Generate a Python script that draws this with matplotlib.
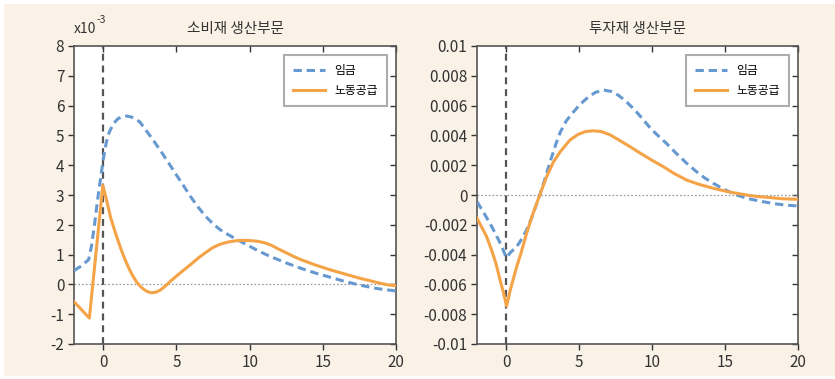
import matplotlib
matplotlib.use("Agg")
import matplotlib.pyplot as plt
from matplotlib.patches import Rectangle

plt.rcParams['font.family'] = ['Noto Sans CJK KR', 'DejaVu Sans']
plt.rcParams['axes.unicode_minus'] = False
plt.rcParams['lines.scale_dashes'] = False

# 소비재 생산부문 (x10^-3)
cons_wage_x = [-2, -1.5, -1, -0.8, -0.6, -0.4, -0.2, 0, 0.2, 0.4, 0.7, 1.0, 1.3, 1.6, 1.9, 2.2,
               2.5, 3.0, 3.5, 4.0, 4.5, 5.0, 5.5, 6.0, 6.5, 7.0, 7.5, 8.0, 8.5, 9.0, 9.5, 10.0,
               10.5, 11.0, 11.5, 12.0, 12.5, 13.0, 13.5, 14.0, 14.5, 15.0, 15.5, 16.0, 16.5,
               17.0, 17.5, 18.0, 18.5, 19.0, 19.5, 20]
cons_wage_y = [0.46, 0.62, 0.83, 1.3, 2.0, 2.8, 3.5, 4.2, 4.75, 5.1, 5.4, 5.56, 5.63, 5.65, 5.62,
               5.55, 5.45, 5.12, 4.78, 4.42, 4.05, 3.67, 3.30, 2.92, 2.58, 2.28, 2.03, 1.83, 1.68,
               1.54, 1.41, 1.28, 1.15, 1.03, 0.92, 0.82, 0.72, 0.63, 0.54, 0.46, 0.38, 0.31,
               0.24, 0.17, 0.10, 0.04, -0.02, -0.07, -0.12, -0.16, -0.19, -0.22]
cons_labor_x = [-2, -0.95, -0.03, 0.25, 0.5, 0.75, 1.0, 1.25, 1.5, 1.75, 2.0, 2.25, 2.5, 2.75,
                3.0, 3.3, 3.6, 3.9, 4.2, 4.6, 5.0, 5.5, 6.0, 6.5, 7.0, 7.5, 8.0, 8.5, 9.0, 9.5,
                10.0, 10.5, 11.0, 11.5, 12.0, 12.5, 13.0, 13.5, 14.0, 14.5, 15.0, 15.5, 16.0,
                16.5, 17.0, 17.5, 18.0, 18.5, 19.0, 19.5, 20]
cons_labor_y = [-0.58, -1.13, 3.32, 2.78, 2.25, 1.85, 1.48, 1.13, 0.82, 0.54, 0.30, 0.10, -0.05,
                -0.16, -0.24, -0.28, -0.26, -0.19, -0.07, 0.11, 0.28, 0.48, 0.68, 0.89, 1.07,
                1.24, 1.35, 1.42, 1.46, 1.48, 1.47, 1.45, 1.40, 1.31, 1.18, 1.06, 0.94, 0.83,
                0.74, 0.65, 0.57, 0.49, 0.42, 0.35, 0.28, 0.21, 0.15, 0.09, 0.03, -0.02, -0.04]

# 투자재 생산부문 (단위: x10^-3, 그릴 때 변환)
inv_wage_x = [-2, -1.5, -1.0, -0.5, -0.2, 0, 0.3, 0.72, 1.0, 1.4, 1.8, 2.3, 2.6, 3.0, 3.4, 3.7,
              4.1, 4.5, 5.06, 5.6, 6.1, 6.65, 7.2, 7.68, 8.2, 8.82, 9.4, 9.96, 10.5, 11.0, 11.6,
              12.37, 13.0, 13.6, 14.2, 15.0, 15.8, 16.6, 17.6, 18.5, 19.2, 20]
inv_wage_y = [-0.45, -1.25, -2.1, -3.05, -3.7, -4.2, -3.85, -3.47, -3.05, -2.35, -1.4, 0.0, 0.9,
              2.2, 3.4, 4.2, 4.95, 5.45, 6.08, 6.55, 6.88, 7.05, 6.95, 6.7, 6.3, 5.7, 5.05, 4.4,
              3.9, 3.45, 2.85, 2.13, 1.6, 1.15, 0.78, 0.35, 0.0, -0.25, -0.45, -0.6, -0.68, -0.74]
inv_labor_x = [-2, -1.6, -1.34, -1.0, -0.7, -0.42, -0.2, 0.03, 0.3, 0.72, 1.0, 1.4, 1.8, 2.3,
               2.8, 3.23, 3.7, 4.37, 4.9, 5.4, 5.97, 6.5, 7.1, 7.68, 8.49, 9.2, 9.96, 10.77,
               11.5, 12.37, 13.2, 14.2, 15.3, 16.48, 17.2, 17.95, 18.9, 20]
inv_labor_y = [-1.56, -2.3, -2.8, -3.7, -4.6, -5.7, -6.5, -7.45, -6.3, -4.81, -3.95, -2.57,
               -1.35, 0.0, 1.3, 2.2, 2.9, 3.69, 4.05, 4.25, 4.31, 4.26, 4.05, 3.72, 3.24, 2.8,
               2.35, 1.9, 1.45, 1.0, 0.72, 0.45, 0.2, 0.0, -0.1, -0.16, -0.25, -0.29]

xticks = [0, 5, 10, 15, 20]
cons_yticks = [-2, -1, 0, 1, 2, 3, 4, 5, 6, 7, 8]
inv_yticks = [-0.01, -0.008, -0.006, -0.004, -0.002, 0, 0.002, 0.004, 0.006, 0.008, 0.01]
inv_ylabels = ['-0.01', '-0.008', '-0.006', '-0.004', '-0.002', '0',
               '0.002', '0.004', '0.006', '0.008', '0.01']

blue = '#6699D0'
orange = '#F4A347'
frame = '#555555'

fig = plt.figure(figsize=(8.35, 3.79), dpi=100)
fig.patches.append(Rectangle((4 / 835, 3 / 379), 831 / 835, 372 / 379,
                             transform=fig.transFigure, facecolor='#FBF2E7',
                             edgecolor='none', zorder=-10))

ax1 = fig.add_axes([74 / 835, 1 - 344 / 379, 322 / 835, 298 / 379])
ax2 = fig.add_axes([477 / 835, 1 - 344 / 379, 321 / 835, 298 / 379])


def style(ax, yticks, ylim, ylabels=None):
    ax.set_xlim(-2, 20)
    ax.set_ylim(*ylim)
    ax.set_xticks(xticks)
    ax.set_yticks(yticks)
    if ylabels is not None:
        ax.set_yticklabels(ylabels)
    for s in ax.spines.values():
        s.set_color(frame)
        s.set_linewidth(1.2)
    ax.tick_params(direction='out', length=4, width=1, color='#333333',
                   labelsize=11, labelcolor='#333333', top=False, right=False, pad=3)
    sx = ax.secondary_xaxis('top')
    sx.set_xticks(xticks)
    sx.tick_params(direction='in', length=4, width=1, color='#333333', labeltop=False)
    sx.spines['top'].set_visible(False)
    sy = ax.secondary_yaxis('right')
    sy.set_yticks(yticks)
    sy.tick_params(direction='in', length=4, width=1, color='#333333', labelright=False)
    sy.spines['right'].set_visible(False)
    ax.axhline(0, color='#999999', lw=0.9, ls=(0, (1.2, 1.5)), zorder=1)
    ax.axvline(0, color='#555555', lw=1.6, ls=(0, (5, 3.5)), zorder=1)


def draw(ax, wx, wy, lx, ly):
    ax.plot(wx, wy, color=blue, lw=2.2, dashes=(6, 3.5), label='임금', zorder=3,
            dash_joinstyle='round')
    ax.plot(lx, ly, color=orange, lw=2.2, label='노동공급', zorder=4,
            solid_joinstyle='round')
    leg = ax.legend(loc='upper right', fontsize=8.5, frameon=True, fancybox=False,
                    handlelength=2.7, borderpad=0.75, labelspacing=0.55,
                    borderaxespad=0.8, handletextpad=0.8)
    leg.get_frame().set_edgecolor('#999999')
    leg.get_frame().set_linewidth(1.5)


draw(ax1, cons_wage_x, cons_wage_y, cons_labor_x, cons_labor_y)
style(ax1, cons_yticks, (-2, 8))
ax1.set_title('소비재 생산부문', fontsize=10.5, color='#333333', pad=9)
t = ax1.text(0, 1.035, 'x10', transform=ax1.transAxes, fontsize=10, color='#333333',
             ha='left', va='bottom')
ax1.annotate('-3', xy=(1, 0.75), xycoords=t, fontsize=7.5, color='#333333',
             ha='left', va='bottom')

draw(ax2, inv_wage_x, [v * 1e-3 for v in inv_wage_y],
     inv_labor_x, [v * 1e-3 for v in inv_labor_y])
style(ax2, inv_yticks, (-0.01, 0.01), inv_ylabels)
ax2.set_title('투자재 생산부문', fontsize=10.5, color='#333333', pad=9)

fig.savefig('out.png', dpi=100, facecolor='white')
